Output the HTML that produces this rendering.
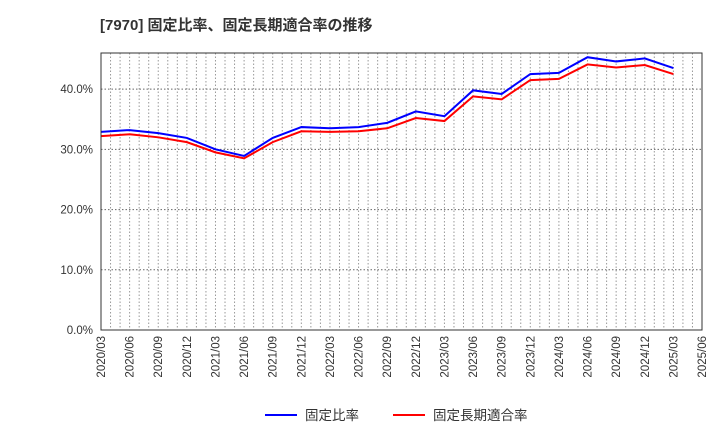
<!DOCTYPE html>
<html><head><meta charset="utf-8"><style>
body{margin:0;background:#fff;font-family:"Liberation Sans","Noto Sans CJK JP",sans-serif;}
</style></head><body>
<svg id="c" width="720" height="440" xmlns="http://www.w3.org/2000/svg">
<text x="100" y="30" font-size="15" font-weight="bold" fill="#333">[7970]  固定比率、固定長期適合率の推移</text>
<g id="grid"></g><g id="series"></g><g id="axes"></g>
<g>
<line x1="265" y1="415" x2="297" y2="415" stroke="#0000ff" stroke-width="2"/>
<text x="305" y="420" font-size="13.5" fill="#333">固定比率</text>
<line x1="393" y1="415" x2="425" y2="415" stroke="#ff0000" stroke-width="2"/>
<text x="433" y="420" font-size="13.5" fill="#333">固定長期適合率</text>
</g>
</svg>
<script>
const categories=["2020/03","2020/06","2020/09","2020/12","2021/03","2021/06","2021/09","2021/12","2022/03","2022/06","2022/09","2022/12","2023/03","2023/06","2023/09","2023/12","2024/03","2024/06","2024/09","2024/12","2025/03","2025/06"];
const fixedRatio=[32.9,33.2,32.7,31.9,30.0,28.9,31.9,33.7,33.5,33.7,34.4,36.3,35.5,39.8,39.2,42.5,42.7,45.3,44.6,45.1,43.5];
const longTermRatio=[32.2,32.5,32.0,31.2,29.5,28.5,31.2,33.0,32.9,33.0,33.5,35.2,34.7,38.8,38.3,41.5,41.7,44.1,43.6,44.0,42.5];
const yTicks=[0,10,20,30,40];
const yTickLabels=["0.0%","10.0%","20.0%","30.0%","40.0%"];
const NS="http://www.w3.org/2000/svg";
const L=101,R=702,T=53,B=330,yMax=46;
const xs=i=>L+(R-L)*i/(categories.length-1);
const ys=v=>B-(B-T)*v/yMax;
function mk(parent,tag,attrs){const e=document.createElementNS(NS,tag);for(const k in attrs)e.setAttribute(k,attrs[k]);document.getElementById(parent).appendChild(e);return e;}
const n=(categories.length-1)*3;
for(let m=1;m<n;m++){const x=L+(R-L)*m/n;
const g=mk('grid','line',{x1:x,y1:T,x2:x,y2:B,stroke:'#999','stroke-dasharray':'1.5,2','stroke-width':1});

}
yTicks.forEach((v,i)=>{const y=ys(v);
if(v>0){const g=mk('grid','line',{x1:L,y1:y,x2:R,y2:y,stroke:'#666','stroke-dasharray':'1.5,2','stroke-width':1});

}
const t=mk('axes','text',{x:L-8,y:y+4,'font-size':11.5,fill:'#333','text-anchor':'end'});t.textContent=yTickLabels[i];

});
categories.forEach((c,i)=>{const x=xs(i);
const t=mk('axes','text',{x:x+4,y:B+6,'font-size':11.5,fill:'#333','text-anchor':'end',transform:`rotate(-90 ${x+4} ${B+6})`});t.textContent=c;

});
const fr=mk('axes','rect',{x:L,y:T,width:R-L,height:B-T,fill:'none',stroke:'#333','stroke-width':1});


function line(data,color,name){const p=mk('series','polyline',{points:data.map((v,i)=>xs(i)+','+ys(v)).join(' '),fill:'none',stroke:color,'stroke-width':2});

}
line(longTermRatio,'#ff0000','long-term-ratio-line');
line(fixedRatio,'#0000ff','fixed-ratio-line');
</script>
</body></html>
